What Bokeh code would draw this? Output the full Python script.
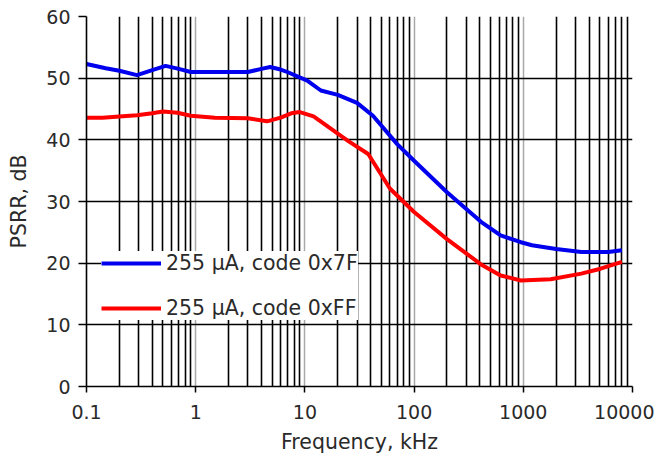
from bokeh.plotting import figure
from bokeh.models import FixedTicker
from bokeh.embed import file_html
from bokeh.resources import INLINE

# ---- data ----
freq_blue = [0.1, 0.15, 0.2, 0.29, 0.4, 0.53, 0.7, 0.9, 1.5, 3.0, 4.0, 4.8, 6.0, 6.9,
             10.5, 14, 20, 30, 42, 70, 100, 200, 410, 620, 950, 1200, 2000, 3400, 6000, 8000]
psrr_blue = [52.3, 51.6, 51.2, 50.5, 51.3, 52.0, 51.5, 51.0, 51.0, 51.0, 51.5, 51.8, 51.4, 51.0,
             49.6, 48.0, 47.3, 46.0, 43.9, 39.3, 36.6, 31.5, 26.7, 24.5, 23.4, 22.9, 22.3, 21.8, 21.8, 22.1]

freq_red = [0.1, 0.14, 0.2, 0.29, 0.4, 0.5, 0.68, 0.9, 1.5, 3.0, 4.5, 6.0, 7.5, 9.0,
            12, 15, 20, 25, 38, 60, 100, 200, 410, 620, 950, 1780, 3400, 5100, 8000]
psrr_red = [43.6, 43.6, 43.8, 44.0, 44.3, 44.6, 44.4, 43.9, 43.6, 43.5, 43.0, 43.6, 44.3, 44.5,
            43.8, 42.6, 41.0, 39.8, 37.7, 32.1, 28.3, 23.9, 19.8, 18.0, 17.2, 17.4, 18.3, 19.1, 20.2]

series_labels = ["255 \u00b5A, code 0x7F", "255 \u00b5A, code 0xFF"]
x_ticks = [0.1, 1, 10, 100, 1000, 10000]
x_tick_labels = ["0.1", "1", "10", "100", "1000", "10000"]
y_ticks = [0, 10, 20, 30, 40, 50, 60]
x_title = "Frequency, kHz"
y_title = "PSRR, dB"

FONT = "DejaVu Sans"
TXT = "#2a2a2a"

p = figure(frame_width=546, frame_height=370, x_axis_type="log",
           x_range=(0.1, 10000), y_range=(0, 60),
           output_backend="svg", toolbar_location=None,
           min_border_left=86, min_border_right=22, min_border_top=16, min_border_bottom=66)
p.outline_line_color = None
p.background_fill_color = "white"
p.border_fill_color = "white"

minor = [m * 10.0 ** e for e in range(-1, 4) for m in range(2, 10)]
xt = FixedTicker(ticks=x_ticks, minor_ticks=minor)
yt = FixedTicker(ticks=y_ticks)

p.xaxis.ticker = xt
p.yaxis.ticker = yt
p.xgrid.ticker = xt
p.ygrid.ticker = yt
p.xaxis.major_label_overrides = {t: l for t, l in zip(x_ticks, x_tick_labels)}

p.xgrid.grid_line_color = "#a8a8a8"
p.xgrid.grid_line_width = 1.5
p.xgrid.minor_grid_line_color = "black"
p.xgrid.minor_grid_line_width = 1.6
p.ygrid.grid_line_color = "black"
p.ygrid.grid_line_width = 1.6

for ax in (p.xaxis, p.yaxis):
    ax.axis_line_color = "black"
    ax.axis_line_width = 1.6
    ax.major_tick_line_color = "black"
    ax.major_tick_line_width = 1.5
    ax.major_tick_in = 0
    ax.minor_tick_in = 0
    ax.minor_tick_out = 0
    ax.major_label_text_font = FONT
    ax.major_label_text_font_size = "19px"
    ax.major_label_text_color = TXT
    ax.axis_label_text_font = FONT
    ax.axis_label_text_font_size = "20.5px"
    ax.axis_label_text_font_style = "normal"
    ax.axis_label_text_color = TXT

p.xaxis.major_tick_out = 6
p.yaxis.major_tick_out = 8
p.xaxis.major_label_standoff = 12
p.yaxis.major_label_standoff = 8
p.xaxis.axis_label = x_title
p.yaxis.axis_label = y_title
p.xaxis.axis_label_standoff = 8
p.yaxis.axis_label_standoff = 12

p.line(freq_blue, psrr_blue, line_color="#0000ee", line_width=4, legend_label=series_labels[0])
p.line(freq_red, psrr_red, line_color="#ff0000", line_width=4, legend_label=series_labels[1])

lg = p.legend[0]
lg.location = (15, 66)
lg.border_line_color = None
lg.background_fill_color = "white"
lg.background_fill_alpha = 1.0
lg.padding = 17
lg.spacing = 21
lg.margin = 0
lg.glyph_width = 60
lg.glyph_height = 24
lg.label_height = 24
lg.label_standoff = 5
lg.label_text_font = FONT
lg.label_text_font_size = "20.5px"
lg.label_text_color = TXT

open("out.html", "w").write(file_html(p, INLINE))
